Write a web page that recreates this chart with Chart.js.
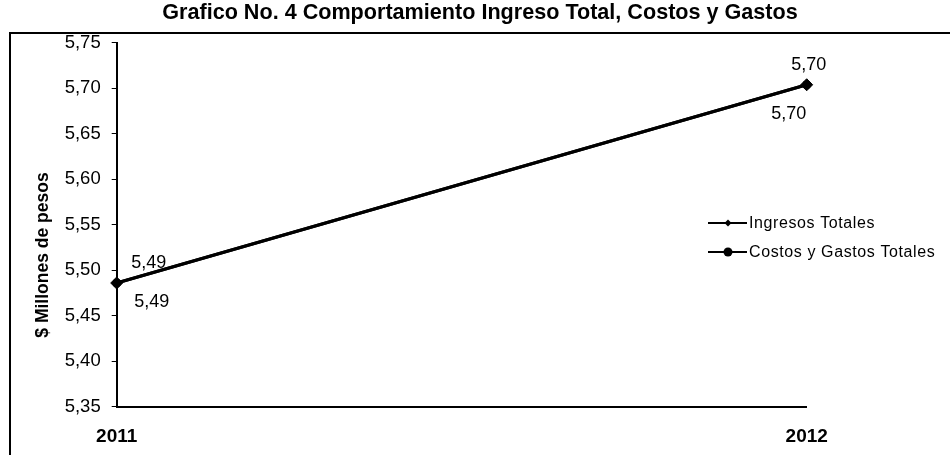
<!DOCTYPE html>
<html><head><meta charset="utf-8">
<script src="https://cdn.jsdelivr.net/npm/chart.js@4/dist/chart.umd.min.js"></script>
<style>html,body{margin:0;padding:0;background:#fff;overflow:hidden}</style>
</head><body>
<canvas id="c" width="950" height="455"></canvas>
<script>
const categories = ['2011', '2012'];
const ingresosTotales = [5.486, 5.704];
const costosGastosTotales = [5.486, 5.704];
const seriesNames = ['Ingresos Totales', 'Costos y Gastos Totales'];
const yTicks = [5.35, 5.40, 5.45, 5.50, 5.55, 5.60, 5.65, 5.70, 5.75];
const titleText = 'Grafico No. 4 Comportamiento Ingreso Total, Costos y Gastos';
const yTitle = '$ Millones de pesos';

const FONT = '"Liberation Sans", Arial, sans-serif';
const fmt = v => v.toFixed(2).replace('.', ',');

const decor = {
  id: 'decor',
  afterDraw(chart) {
    const ctx = chart.ctx;
    ctx.save();
    ctx.strokeStyle = '#000'; ctx.lineWidth = 2;
    ctx.beginPath(); ctx.moveTo(10, 455); ctx.lineTo(10, 33); ctx.lineTo(950, 33); ctx.stroke();
    ctx.fillStyle = '#000';
    ctx.save();
    ctx.translate(43, 255); ctx.rotate(-Math.PI / 2);
    ctx.font = 'bold 17.5px ' + FONT; ctx.textAlign = 'center'; ctx.textBaseline = 'middle';
    ctx.fillText(yTitle, 0, 0);
    ctx.restore();
    // data labels
    ctx.font = '18px ' + FONT; ctx.textAlign = 'center'; ctx.textBaseline = 'middle';
    const offs = [[[32, -20], [2, -20]], [[35, 19], [-18, 29]]];
    chart.data.datasets.forEach((ds, i) => {
      const meta = chart.getDatasetMeta(i);
      meta.data.forEach((pt, j) => {
        ctx.fillText(fmt(ds.data[j]), pt.x + offs[i][j][0], pt.y + offs[i][j][1]);
      });
    });
    // legend
    const rows = [223, 252];
    ctx.font = '16px ' + FONT; ctx.textAlign = 'left';
    try { ctx.letterSpacing = '0.6px'; } catch (e) {}
    chart.data.datasets.forEach((ds, i) => {
      const y = rows[i];
      ctx.lineWidth = 2;
      ctx.beginPath(); ctx.moveTo(708, y); ctx.lineTo(747, y); ctx.stroke();
      ctx.beginPath();
      if (i === 0) {
        ctx.moveTo(728, y - 3.5); ctx.lineTo(731.5, y); ctx.lineTo(728, y + 3.5); ctx.lineTo(724.5, y); ctx.closePath();
      } else {
        ctx.arc(728, y, 4.5, 0, Math.PI * 2);
      }
      ctx.fill();
      ctx.fillText(ds.label, 749, y + 1);
    });
    ctx.restore();
  }
};

new Chart(document.getElementById('c'), {
  type: 'line',
  data: {
    labels: categories,
    datasets: [
      { label: seriesNames[0], data: ingresosTotales, borderColor: '#000', backgroundColor: '#000',
        borderWidth: 3, pointStyle: 'rectRot', pointRadius: 6, pointBorderWidth: 1 },
      { label: seriesNames[1], data: costosGastosTotales, borderColor: '#000', backgroundColor: '#000',
        borderWidth: 3, pointStyle: 'circle', pointRadius: 4, pointBorderWidth: 1 }
    ]
  },
  options: {
    responsive: false,
    animation: false,
    devicePixelRatio: 1,
    layout: { padding: { left: 10, right: 0, top: 0, bottom: 0 } },
    plugins: {
      legend: { display: false },
      tooltip: { enabled: false },
      title: { display: true, text: titleText, color: '#000',
        font: { family: FONT, size: 21.6, weight: 'bold' }, padding: { top: 0, bottom: 17 } }
    },
    scales: {
      x: {
        offset: false,
        grid: { display: true, drawOnChartArea: false, drawTicks: false, color: '#000' },
        border: { display: true, color: '#000', width: 2 },
        ticks: { color: '#000', font: { family: FONT, size: 19, weight: 'bold' }, padding: 19, maxRotation: 0 },
        afterFit(s) { s.height = 48.3; }
      },
      y: {
        min: 5.35, max: 5.75,
        afterBuildTicks(s) { s.ticks = yTicks.map(v => ({ value: v })); },
        grid: { display: true, drawOnChartArea: false, drawTicks: true, tickLength: 5, color: '#000' },
        border: { display: true, color: '#000', width: 2 },
        ticks: { color: '#000', font: { family: FONT, size: 18.5 }, padding: 11,
          callback: v => fmt(v) },
        afterFit(s) { s.width = 106.7; }
      },
      spacer: {
        type: 'linear', position: 'right', display: true,
        grid: { display: false }, border: { display: false }, ticks: { display: false },
        afterFit(s) { s.width = 143.3; }
      }
    }
  },
  plugins: [decor]
});
</script>
</body></html>
